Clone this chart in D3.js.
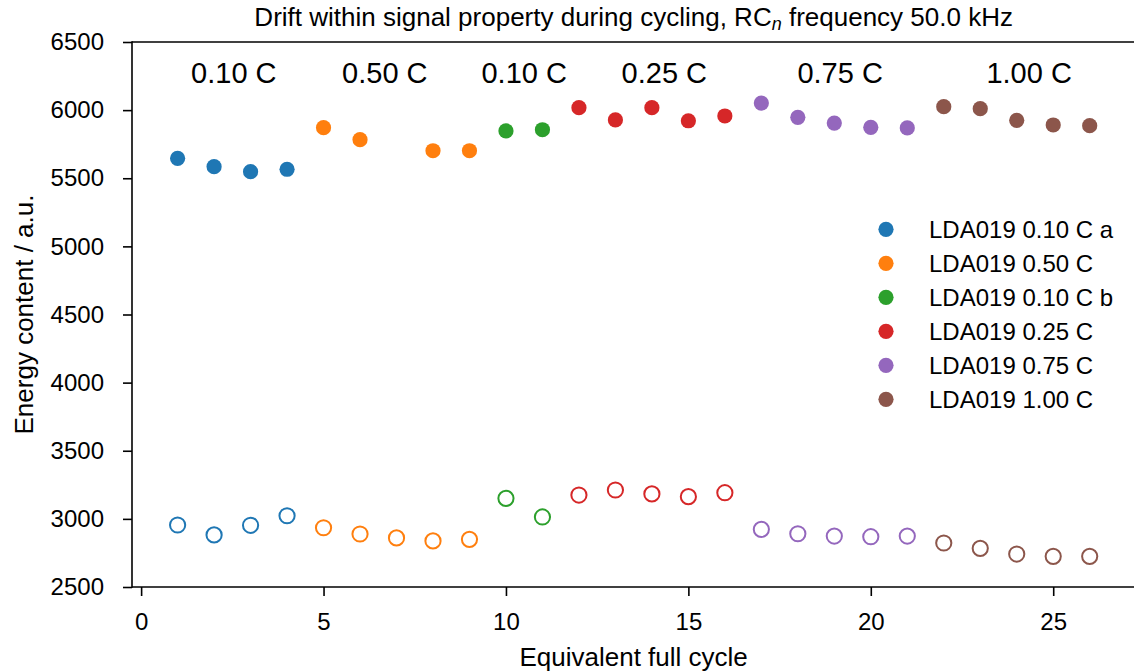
<!DOCTYPE html>
<html>
<head>
<meta charset="utf-8">
<script src="https://cdn.jsdelivr.net/npm/d3@7"></script>
<style>
  html, body { margin: 0; padding: 0; background: #fff; }
  svg text { font-family: "Liberation Sans", Arial, Helvetica, sans-serif; fill: #000; }
</style>
</head>
<body>
<svg id="chart" width="1134" height="672"></svg>
<script>
// Series and their colours
const seriesNames = ["LDA019 0.10 C a", "LDA019 0.50 C", "LDA019 0.10 C b",
                     "LDA019 0.25 C", "LDA019 0.75 C", "LDA019 1.00 C"];
const seriesColors = ["#1f77b4", "#ff7f0e", "#2ca02c", "#d62728", "#9467bd", "#8c564b"];

// Upper property (filled markers)
const filledCycles = [[1, 2, 3, 4], [5, 6, 8, 9], [10, 11], [12, 13, 14, 15, 16],
                      [17, 18, 19, 20, 21], [22, 23, 24, 25, 26]];
const filledValues = [[5646, 5585, 5548, 5566], [5871, 5783, 5702, 5702], [5847, 5856],
                      [6018, 5928, 6018, 5922, 5957], [6052, 5947, 5905, 5874, 5869],
                      [6025, 6011, 5925, 5891, 5886]];

// Lower property (open markers)
const openCycles = [[1, 2, 3, 4], [5, 6, 7, 8, 9], [10, 11], [12, 13, 14, 15, 16],
                    [17, 18, 19, 20, 21], [22, 23, 24, 25, 26]];
const openValues = [[2955, 2882, 2953, 3023], [2935, 2889, 2860, 2838, 2850], [3151, 3014],
                    [3175, 3212, 3183, 3163, 3192], [2923, 2891, 2874, 2869, 2874],
                    [2823, 2784, 2742, 2725, 2725]];

// C-rate annotations above the groups
const rateLabels = ["0.10 C", "0.50 C", "0.10 C", "0.25 C", "0.75 C", "1.00 C"];
const rateLabelX = [2.54, 6.68, 10.5, 14.34, 19.16, 24.34];

const xTicks = [0, 5, 10, 15, 20, 25];
const yTicks = [2500, 3000, 3500, 4000, 4500, 5000, 5500, 6000, 6500];

const svg = d3.select("#chart");
const plotLeft = 132, plotRight = 1135.3, plotTop = 42, plotBottom = 587;

const x = d3.scaleLinear().domain([-0.25, 27.25]).range([plotLeft, plotRight]);
const y = d3.scaleLinear().domain([2500, 6500]).range([plotBottom, plotTop]);

// Axes
const xAxis = svg.append("g")
  .attr("transform", `translate(0,${plotBottom})`)
  .call(d3.axisBottom(x).tickValues(xTicks).tickSize(9).tickPadding(7).tickFormat(d3.format("d")));
const yAxis = svg.append("g")
  .attr("transform", `translate(${plotLeft},0)`)
  .call(d3.axisLeft(y).tickValues(yTicks).tickSize(9).tickPadding(19).tickFormat(d3.format("d")));

[xAxis, yAxis].forEach(g => {
  g.select(".domain").remove();
  g.selectAll(".tick line").attr("stroke", "#000").attr("stroke-width", 1.6);
  g.selectAll(".tick text").attr("font-size", 24)
    .attr("font-family", "'Liberation Sans', Arial, sans-serif").attr("fill", "#000");
});
xAxis.selectAll(".tick text").attr("dy", null).attr("y", 0)
  .attr("transform", "translate(0,43)");

// Spines: left, bottom, top, right
const spine = svg.append("g").attr("stroke", "#000").attr("stroke-width", 1.6).attr("fill", "none");
spine.append("line").attr("x1", plotLeft).attr("x2", plotLeft).attr("y1", plotTop - 0.8).attr("y2", plotBottom + 0.8);
spine.append("line").attr("x1", plotLeft).attr("x2", plotRight).attr("y1", plotBottom).attr("y2", plotBottom);
spine.append("line").attr("x1", plotLeft).attr("x2", plotRight).attr("y1", plotTop).attr("y2", plotTop);
spine.append("line").attr("x1", plotRight).attr("x2", plotRight).attr("y1", plotTop).attr("y2", plotBottom);

// Markers
const plot = svg.append("g");
seriesNames.forEach((name, i) => {
  const open = openCycles[i].map((c, j) => ({ c, v: openValues[i][j] }));
  const filled = filledCycles[i].map((c, j) => ({ c, v: filledValues[i][j] }));
  plot.selectAll(null).data(open).enter().append("circle")
    .attr("cx", d => x(d.c)).attr("cy", d => y(d.v)).attr("r", 7.6)
    .attr("fill", "none").attr("stroke", seriesColors[i]).attr("stroke-width", 2);
  plot.selectAll(null).data(filled).enter().append("circle")
    .attr("cx", d => x(d.c)).attr("cy", d => y(d.v)).attr("r", 7.6)
    .attr("fill", seriesColors[i]);
});

// Rate annotations
svg.append("g").selectAll("text").data(rateLabels).enter().append("text")
  .attr("x", (d, i) => x(rateLabelX[i])).attr("y", 82.5)
  .attr("text-anchor", "middle").attr("font-size", 29).text(d => d);

// Legend
const legend = svg.append("g");
seriesNames.forEach((name, i) => {
  const cy = 229.3 + i * 34;
  legend.append("circle").attr("cx", 886).attr("cy", cy).attr("r", 7.6).attr("fill", seriesColors[i]);
  legend.append("text").attr("x", 929).attr("y", cy + 8.6).attr("font-size", 24).text(name);
});

// Title
const title = svg.append("text").attr("x", (plotLeft + plotRight) / 2).attr("y", 26)
  .attr("text-anchor", "middle").attr("font-size", 26);
title.append("tspan").text("Drift within signal property during cycling, RC");
title.append("tspan").attr("font-style", "italic").attr("font-size", 18).attr("dy", 4).text("n");
title.append("tspan").attr("dy", -4).text(" frequency 50.0 kHz");

// Axis labels
svg.append("text").attr("x", (plotLeft + plotRight) / 2).attr("y", 666)
  .attr("text-anchor", "middle").attr("font-size", 26).text("Equivalent full cycle");
svg.append("text").attr("transform", `translate(33,${(plotTop + plotBottom) / 2}) rotate(-90)`)
  .attr("text-anchor", "middle").attr("font-size", 26).text("Energy content / a.u.");
</script>
</body>
</html>
